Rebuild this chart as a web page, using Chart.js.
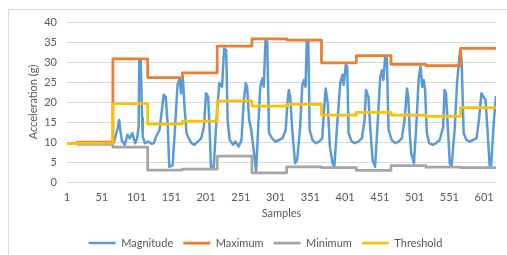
<!DOCTYPE html>
<html>
<head>
<meta charset="utf-8">
<script src="https://cdn.jsdelivr.net/npm/chart.js@4/dist/chart.umd.min.js"></script>
<style>
  html, body { margin: 0; padding: 0; background: #fff; overflow: hidden; }
  #wrap { width: 507px; height: 262px; }
</style>
</head>
<body>
<div id="wrap"><canvas id="accChart" width="507" height="262"></canvas></div>
<script>
// values
const xTicks = [1, 51, 101, 151, 201, 251, 301, 351, 401, 451, 501, 551, 601];
const yTicks = [0, 5, 10, 15, 20, 25, 30, 35, 40];
const lastSample = 618;

// window starts for the step series (one value per window)
const segStarts = [1, 16, 67, 117, 167, 217, 267, 317, 367, 417, 467, 517, 567];
const maximum   = [9.6, 10.0, 30.8, 26.1, 27.3, 34.0, 35.8, 35.5, 29.8, 31.6, 29.4, 29.1, 33.4];
const minimum   = [9.6, 9.4, 8.7, 3.0, 3.2, 6.5, 2.3, 3.8, 3.6, 2.9, 4.1, 3.7, 3.6];
const threshold = [9.6, 9.7, 19.6, 14.5, 15.2, 20.3, 19.0, 19.4, 16.7, 17.4, 16.7, 16.4, 18.6];

// magnitude, sampled at its visible vertices
const magSamples = [1, 66, 68, 74, 76, 78, 80, 84, 88, 91, 95, 99, 102, 104, 105, 107, 109, 110, 113, 118,
  123, 126, 129, 134, 138, 140, 143, 146, 148, 153, 157, 160, 163, 165, 167.5, 170, 173, 176, 180, 184,
  189, 194, 198, 201, 204, 206, 208, 212, 216, 220, 224, 227, 230, 232, 235, 240, 243, 248, 252, 255,
  258, 260, 263, 266, 270, 273, 276, 279, 282, 284, 286.5, 289, 291.5, 296, 301, 306, 311, 315.5, 318, 320,
  322, 325, 329, 332, 336, 339.5, 342, 344, 346, 348, 350, 354, 359, 363.5, 368, 371, 373, 376, 379, 383,
  385.5, 389, 394, 397, 399, 402, 404, 406, 410.5, 415, 420, 425, 429, 431, 434.5, 437, 440.5, 444, 447.5, 451.5,
  454, 456, 458.5, 461, 463.5, 468, 473, 478, 482.5, 486.5, 490, 492, 494, 496, 500, 503, 507, 509.5, 512, 514,
  516, 518.5, 522, 527, 532, 537, 542, 544, 546, 549, 551.5, 554, 558.5, 562, 564.5, 566.5, 568.5, 571.5, 575.5, 580,
  585, 590, 593.5, 597, 600, 603, 606, 609, 611, 615, 618];
const magValues = [9.6, 9.6, 9.8, 13.5, 15.5, 12.5, 10.3, 9.3, 11.8, 10.9, 12.2, 9.7, 10.9, 14.0, 30.5, 30.5, 16.0, 11.3, 9.7, 10.1,
  9.5, 9.8, 11.3, 13.0, 18.8, 21.8, 21.3, 13.8, 3.8, 4.2, 15.5, 24.3, 25.9, 22.2, 26.3, 18.8, 12.2, 10.9, 9.7, 9.3,
  10.1, 10.9, 13.8, 22.2, 21.3, 13.8, 3.8, 3.8, 15.5, 24.7, 23.8, 33.4, 33.0, 15.5, 10.5, 9.3, 10.1, 8.9, 10.5, 19.7,
  24.7, 23.8, 15.5, 13.0, 7.2, 2.6, 13.8, 23.8, 25.9, 23.8, 35.5, 35.1, 12.2, 10.9, 10.1, 10.5, 10.9, 13.0, 19.7, 23.0,
  21.3, 13.0, 4.7, 5.5, 13.0, 24.3, 25.5, 23.8, 35.5, 35.5, 13.0, 10.5, 9.7, 10.1, 10.9, 18.8, 23.4, 19.7, 8.9, 4.7,
  3.8, 13.0, 24.7, 26.8, 24.3, 29.3, 28.8, 12.2, 10.1, 9.7, 10.1, 10.9, 15.5, 23.0, 21.3, 13.8, 5.5, 3.8, 13.8, 26.3,
  27.9, 25.5, 31.3, 30.9, 13.0, 10.5, 9.7, 10.1, 10.9, 15.5, 23.4, 21.0, 12.0, 7.2, 4.7, 13.0, 26.3, 28.8, 23.8, 25.5,
  23.0, 12.2, 9.7, 9.3, 9.7, 10.5, 13.8, 23.0, 22.2, 13.0, 4.7, 3.8, 13.0, 24.7, 29.7, 33.0, 30.5, 12.2, 10.5, 10.1,
  10.5, 10.9, 15.5, 22.2, 21.3, 20.5, 12.2, 3.8, 4.2, 15.5, 21.5];

const toPoints = (xs, ys) => xs.map((x, i) => ({ x: x, y: ys[i] }));
// step series: one point per window start, plus the last sample
const toSteps = (ys) => toPoints(segStarts.concat([lastSample]), ys.concat([ys[ys.length - 1]]));

const frameBox = {
  id: 'frameBox',
  beforeDraw(chart) {
    const ctx = chart.ctx;
    ctx.save();
    ctx.fillStyle = '#ffffff';
    ctx.fillRect(0, 0, chart.width, chart.height);
    ctx.strokeStyle = '#d9d9d9';
    ctx.lineWidth = 1;
    ctx.strokeRect(8.5, 9.5, 600, 300);
    ctx.restore();
  }
};

Chart.defaults.font.family = 'Lato';
Chart.defaults.font.size = 11;
Chart.defaults.color = '#595959';

new Chart(document.getElementById('accChart'), {
  type: 'line',
  data: {
    datasets: [{
      label: 'Magnitude',
      data: toPoints(magSamples, magValues),
      borderColor: '#5B9BD5',
      backgroundColor: '#5B9BD5',
      borderWidth: 2.5,
      order: 4
    }, {
      label: 'Maximum',
      data: toSteps(maximum),
      borderColor: '#ED7D31',
      backgroundColor: '#ED7D31',
      borderWidth: 2.75,
      stepped: 'before',
      order: 3
    }, {
      label: 'Minimum',
      data: toSteps(minimum),
      borderColor: '#A5A5A5',
      backgroundColor: '#A5A5A5',
      borderWidth: 2.75,
      stepped: 'before',
      order: 2
    }, {
      label: 'Threshold',
      data: toSteps(threshold),
      borderColor: '#FFC000',
      backgroundColor: '#FFC000',
      borderWidth: 2.75,
      stepped: 'before',
      order: 1
    }]
  },
  options: {
    responsive: false,
    animation: false,
    layout: { padding: { left: 24, right: 0, top: 22, bottom: 3.5 } },
    elements: { point: { radius: 0 }, line: { tension: 0, borderCapStyle: 'butt', borderJoinStyle: 'round' } },
    plugins: {
      tooltip: { enabled: false },
      legend: {
        position: 'bottom',
        labels: {
          usePointStyle: true,
          pointStyle: 'line',
          pointStyleWidth: 27,
          padding: 10,
          color: '#595959',
          sort: (a, b) => a.datasetIndex - b.datasetIndex
        }
      }
    },
    scales: {
      x: {
        type: 'linear',
        min: 1,
        max: lastSample,
        afterBuildTicks: (scale) => { scale.ticks = xTicks.map(v => ({ value: v })); },
        afterFit: (scale) => { scale.height = 45.5; },
        grid: { display: false },
        border: { display: false },
        ticks: { padding: 1, maxRotation: 0, autoSkip: false, color: '#595959' },
        title: { display: true, text: 'Samples', color: '#595959', padding: { top: 0, bottom: 7 } }
      },
      y: {
        min: 0,
        max: 40,
        afterBuildTicks: (scale) => { scale.ticks = yTicks.map(v => ({ value: v })); },
        afterFit: (scale) => { scale.width = 43; },
        grid: { color: '#d9d9d9', lineWidth: 1, drawTicks: false },
        border: { display: false },
        ticks: { padding: 10, color: '#595959' },
        title: { display: true, text: 'Acceleration (g)', color: '#595959', padding: { top: 2.4, bottom: 0 } }
      },
      yRight: {
        position: 'right',
        afterFit: (scale) => { scale.width = 11; },
        grid: { display: false },
        border: { display: false },
        ticks: { display: false }
      }
    }
  },
  plugins: [frameBox]
});
</script>
</body>
</html>
